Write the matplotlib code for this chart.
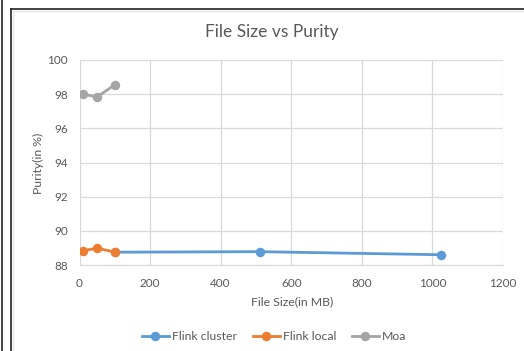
import matplotlib
matplotlib.use('Agg')
import matplotlib.pyplot as plt
from matplotlib.lines import Line2D

plt.rcParams['font.family'] = ['Lato', 'DejaVu Sans']

# file sizes in MB
cluster_size = [100, 512, 1024]
cluster_purity = [88.75, 88.78, 88.6]

local_size = [10, 50, 100]
local_purity = [88.84, 88.98, 88.76]

moa_size = [10, 50, 100]
moa_purity = [98.0, 97.84, 98.55]

x_ticks = [0, 200, 400, 600, 800, 1000, 1200]
y_ticks = [88, 90, 92, 94, 96, 98, 100]

text_color = '#595959'
grid_color = '#d9d9d9'

W, H = 524, 351
fig = plt.figure(figsize=(W / 100, H / 100), dpi=100)
ax = fig.add_axes([79.5 / W, 86 / H, (503 - 79.5) / W, (265 - 60) / H])

ax.plot(cluster_size, cluster_purity, color='#5B9BD5', lw=2, marker='o', ms=5.8, label='Flink cluster')
ax.plot(local_size, local_purity, color='#ED7D31', lw=2, marker='o', ms=5.8, label='Flink local')
ax.plot(moa_size, moa_purity, color='#A5A5A5', lw=2, marker='o', ms=5.8, label='Moa')

ax.set_xlim(0, 1200)
ax.set_ylim(88, 100)
ax.set_xticks(x_ticks)
ax.set_yticks(y_ticks)
ax.grid(True, color=grid_color, lw=0.9)
ax.set_axisbelow(True)
for side in ['top', 'right', 'left']:
    ax.spines[side].set_visible(False)
ax.spines['bottom'].set_color(grid_color)
ax.tick_params(length=0, labelsize=8.5, colors=text_color)
ax.tick_params(axis='x', pad=9.5)
ax.tick_params(axis='y', pad=8.5)

# title centred on the whole chart area
fig.text(272 / W, 1 - 32 / H, 'File Size vs Purity', fontsize=12.5, color=text_color,
         ha='center', va='center')

ax.set_xlabel('File Size(in MB)', fontsize=8.8, color=text_color)
ax.set_ylabel('Purity(in %)', fontsize=8.8, color=text_color)
ax.xaxis.label.set_va('center')
ax.yaxis.label.set_va('center')
ax.xaxis.set_label_coords((292 - 79.5) / 423.5, (265 - 302) / 205)
ax.yaxis.set_label_coords((38 - 79.5) / 423.5, (265 - 163) / 205)

fig.legend(loc='center', bbox_to_anchor=(274 / W, 1 - 337 / H), ncol=3, frameon=False,
           fontsize=8.8, labelcolor=text_color, handlelength=2.2, handletextpad=0.25,
           columnspacing=1.3)

# chart frame edges
fig.add_artist(Line2D([1.5 / W, 1.5 / W], [0, 1], color='#222222', lw=1.2))
fig.add_artist(Line2D([10.5 / W, 10.5 / W], [0, 1 - 8.5 / H], color='#222222', lw=1.2))
fig.add_artist(Line2D([10.5 / W, 1], [1 - 8.5 / H, 1 - 8.5 / H], color='#222222', lw=1.2))
fig.add_artist(Line2D([12.5 / W, 12.5 / W], [0, 1 - 10.5 / H], color='#e6e6e6', lw=1))
fig.add_artist(Line2D([12.5 / W, 1], [1 - 10.5 / H, 1 - 10.5 / H], color='#e6e6e6', lw=1))

fig.savefig('out.png', dpi=100)
